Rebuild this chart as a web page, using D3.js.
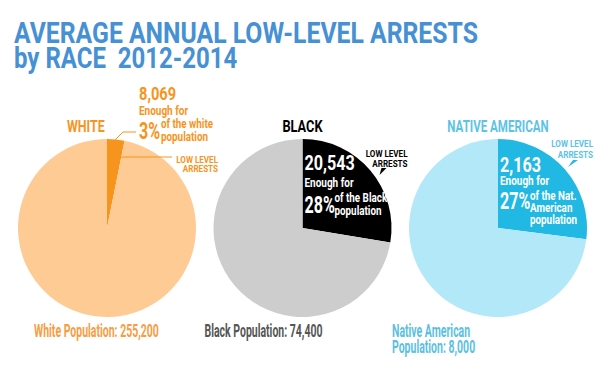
<!DOCTYPE html>
<html>
<head>
<meta charset="utf-8">
<script src="https://cdn.jsdelivr.net/npm/d3@7"></script>
<style>
  body { margin: 0; background: #fff; }
  text { font-family: Roboto, "Open Sans", sans-serif; font-weight: bold; white-space: pre; }
</style>
</head>
<body>
<svg width="608" height="390"></svg>
<script>
const races = ['WHITE', 'BLACK', 'NATIVE AMERICAN'];
const arrests = [8069, 20543, 2163];
const populations = [255200, 74400, 8000];
const shares = ['3%', '28%', '27%'];
const shareNotes = [['of the white', 'population'], ['of the Black', 'population'], ['of the Nat.', 'American', 'population']];
const popLabels = [['White Population: 255,200'], ['Black Population: 74,400'], ['Native American', 'Population: 8,000']];

const svg = d3.select('svg');
const fmt = d3.format(',');

// condensed text: Roboto squeezed horizontally
function label(sel, x, y, str, size, sx, fill, anchor) {
  return sel.append('text')
    .attr('transform', `translate(${x},${y}) scale(${sx},1)`)
    .attr('text-anchor', anchor || 'start')
    .style('font-size', size + 'px')
    .attr('fill', fill)
    .text(str);
}

// title
label(svg, 14, 43, 'AVERAGE ANNUAL LOW-LEVEL ARRESTS', 30, 0.825, '#4690d4');
label(svg, 14, 68, 'by RACE  2012-2014', 30, 0.8, '#4690d4');

const x = d3.scalePoint().domain(races).range([107, 498]);
const r = 89, cy = 228;
const pie = d3.pie().sort(null);
const arc = d3.arc().innerRadius(0).outerRadius(r);

const styles = [
  { light: '#ffcb94', dark: '#f7941d', text: '#f7941d', inner: '#f7941d', pop: '#f89c3f' },
  { light: '#cdcdcd', dark: '#000000', text: '#000000', inner: '#ffffff', pop: '#555555' },
  { light: '#b3e8f9', dark: '#21b8e3', text: '#5cc3e6', inner: '#ffffff', pop: '#5cbfe2' }
];

const g = svg.selectAll('g.race').data(races).enter().append('g')
  .attr('class', 'race')
  .attr('transform', (d) => `translate(${x(d)},${cy})`);

g.selectAll('path')
  .data((d, i) => pie([arrests[i], populations[i] - arrests[i]]).map((p) => Object.assign(p, { race: i })))
  .enter().append('path')
  .attr('d', arc)
  .attr('fill', (d) => d.index === 0 ? styles[d.race].dark : styles[d.race].light);

// layout of each annotation block, relative to the pie centre
const blocks = [
  { name: [-40, 'start', 0.73], nx: 32, ny: -128, ey: -113, py: -89, ox: 54, oy: [-100, -87], lx: 111, ly: [-65, -56] },
  { name: [0, 'middle', 0.75], nx: 2, ny: -58, ey: -41, py: -15, ox: 32, oy: [-26, -13], lx: 105, ly: [-71, -61] },
  { name: [0, 'middle', 0.68], nx: 2, ny: -56, ey: -43, py: -19, ox: 32, oy: [-28, -16, -4], lx: 95, ly: [-81, -70] }
];

g.each(function (d, i) {
  const b = blocks[i];
  const s = styles[i];
  const el = d3.select(this);
  label(el, b.name[0], -96, d, 17, b.name[2], s.text, b.name[1]);
  label(el, b.nx, b.ny, fmt(arrests[i]), i === 0 ? 19 : 21, 0.77, s.inner);
  label(el, b.nx, b.ey, 'Enough for', 13.5, 0.74, s.inner);
  label(el, b.nx, b.py, shares[i], 23, 0.7, s.inner);
  shareNotes[i].forEach((t, k) => label(el, b.ox, b.oy[k], t, 13.5, 0.73, s.inner));
  ['LOW LEVEL', 'ARRESTS'].forEach((t, k) => label(el, b.lx, b.ly[k], t, 9.5, 0.85, s.text, 'end'));
  if (i === 0) {
    el.append('polyline')
      .attr('points', '8,-88 16,-96 29,-96')
      .attr('fill', 'none').attr('stroke', s.dark).attr('stroke-width', 1);
    el.append('line')
      .attr('x1', 13).attr('y1', -71).attr('x2', 65).attr('y2', -71)
      .attr('stroke', s.dark).attr('stroke-width', 1);
  } else {
    const p = i === 1 ? [[77, -53], [79, -60], [84, -60]] : [[70, -61], [75, -68], [80, -68]];
    el.append('path').attr('d', d3.line()(p) + 'Z').attr('fill', s.dark);
  }
  const px = [-73, -98, -106];
  popLabels[i].forEach((t, k) => label(el, px[i], 109 + k * 16, t, 17.5, 0.6, s.pop));
});
</script>
</body>
</html>
